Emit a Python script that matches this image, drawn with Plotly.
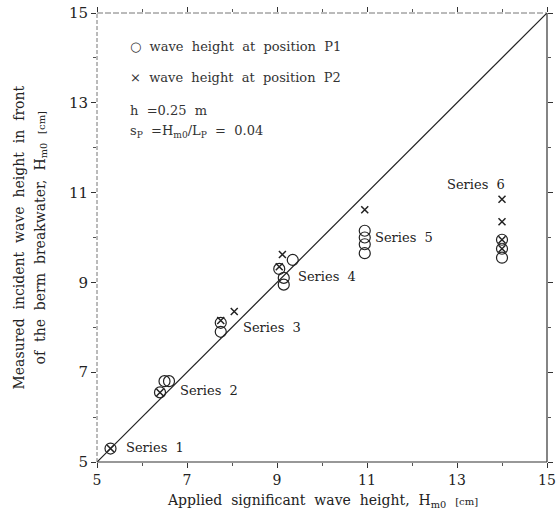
import plotly.graph_objects as go

# Measured wave heights (cm) against applied significant wave height (cm)
p1_applied = [5.3, 6.4, 6.5, 6.6, 7.75, 7.75, 9.05, 9.35, 9.15, 9.15,
              10.95, 10.95, 10.95, 10.95, 14.0, 14.0, 14.0]
p1_measured = [5.3, 6.55, 6.8, 6.8, 8.1, 7.9, 9.3, 9.5, 9.1, 8.95,
               10.15, 10.0, 9.85, 9.65, 9.95, 9.75, 9.55]

p2_applied = [5.3, 6.4, 7.75, 8.05, 9.05, 9.12, 10.95, 14.0, 14.0, 14.0, 14.0]
p2_measured = [5.3, 6.55, 8.15, 8.35, 9.35, 9.62, 10.62, 10.85, 10.35, 9.95, 9.75]

series_names = ["Series 1", "Series 2", "Series 3", "Series 4", "Series 5", "Series 6"]
series_label_x = [5.6, 6.79, 8.19, 9.43, 11.14, 12.73]
series_label_y = [5.33, 6.6, 8.0, 9.13, 9.99, 11.17]

axis_range = [5, 15]
tick_vals = [5, 7, 9, 11, 13, 15]

INK = "#222222"
SERIF = "DejaVu Serif, Liberation Serif, serif"
SP = "\u00a0\u00a0"

fig = go.Figure()

# line of perfect agreement
fig.add_trace(go.Scatter(x=axis_range, y=axis_range, mode="lines",
                         line=dict(color=INK, width=1.2), showlegend=False,
                         hoverinfo="skip"))

fig.add_trace(go.Scatter(x=p1_applied, y=p1_measured, mode="markers",
                         marker=dict(symbol="circle-open", size=11,
                                     line=dict(color=INK, width=1.2), color=INK),
                         showlegend=False))
fig.add_trace(go.Scatter(x=p2_applied, y=p2_measured, mode="markers",
                         marker=dict(symbol="x-thin-open", size=7,
                                     line=dict(color=INK, width=1.5), color=INK),
                         showlegend=False))

annotations = []
for name, lx, ly in zip(series_names, series_label_x, series_label_y):
    annotations.append(dict(x=lx, y=ly, xref="x", yref="y", text=name.replace(" ", SP),
                            showarrow=False, xanchor="left", yanchor="middle",
                            font=dict(family=SERIF, size=13, color=INK)))

# key and test conditions
key_lines = [
    ("\u25cb" + SP + "wave" + SP + "height" + SP + "at" + SP + "position" + SP + "P1", 47),
    ("\u00d7" + SP + "wave" + SP + "height" + SP + "at" + SP + "position" + SP + "P2", 77),
    ("h" + SP + "=0.25" + SP + "m", 110),
    ("s<sub>P</sub>" + SP + "=H<sub>m0</sub>/L<sub>P</sub>" + SP + "=" + SP + "0.04", 131),
]
plot_top, plot_bottom = 13, 462
for txt, py in key_lines:
    annotations.append(dict(x=(128 - 97) / 450, y=(plot_bottom - py) / (plot_bottom - plot_top),
                            xref="paper", yref="paper", text=txt, showarrow=False,
                            xanchor="left", yanchor="middle",
                            font=dict(family=SERIF, size=13, color="#333333")))

# axis titles
annotations.append(dict(
    x=0.5, y=(plot_bottom - 501) / (plot_bottom - plot_top), xref="paper", yref="paper",
    text="Applied" + SP + "significant" + SP + "wave" + SP + "height," + SP
         + "H<sub>m0</sub>" + SP + "<span style='font-size:10px'>[cm]</span>",
    showarrow=False, xanchor="center", yanchor="middle",
    font=dict(family=SERIF, size=14, color=INK)))
annotations.append(dict(
    x=(18 - 97) / 450, y=0.5, xref="paper", yref="paper", textangle=-90,
    text="Measured" + SP + "incident" + SP + "wave" + SP + "height" + SP + "in" + SP + "front",
    showarrow=False, xanchor="center", yanchor="middle",
    font=dict(family=SERIF, size=14, color=INK)))
annotations.append(dict(
    x=(40 - 97) / 450, y=0.5, xref="paper", yref="paper", textangle=-90,
    text="of" + SP + "the" + SP + "berm" + SP + "breakwater," + SP
         + "H<sub>m0</sub>" + SP + "<span style='font-size:10px'>[cm]</span>",
    showarrow=False, xanchor="center", yanchor="middle",
    font=dict(family=SERIF, size=14, color=INK)))

# frame: light dashed left/top, solid right/bottom
shapes = [
    dict(type="line", xref="paper", yref="paper", x0=0, x1=0, y0=0, y1=1,
         line=dict(color="#777777", width=1, dash="4px,2px")),
    dict(type="line", xref="paper", yref="paper", x0=0, x1=1, y0=1, y1=1,
         line=dict(color="#777777", width=1, dash="6px,2px")),
    dict(type="line", xref="paper", yref="paper", x0=1, x1=1, y0=0, y1=1,
         line=dict(color="#333333", width=1.2)),
    dict(type="line", xref="paper", yref="paper", x0=0, x1=1, y0=0, y1=0,
         line=dict(color="#333333", width=1.2)),
]

axis_common = dict(range=axis_range, tickvals=tick_vals, showgrid=False, zeroline=False,
                   showline=False, ticks="outside", ticklen=5, tickcolor="#333333",
                   mirror="allticks", ticklabeloverflow="allow", automargin=False,
                   minor=dict(dtick=1, ticks="outside", ticklen=3, tickcolor="#555555"))

fig.update_layout(
    width=556, height=529,
    margin=dict(l=97, r=9, t=13, b=67),
    paper_bgcolor="white", plot_bgcolor="white",
    xaxis=dict(**axis_common, ticklabelstandoff=0,
               tickfont=dict(family=SERIF, size=14, color=INK)),
    yaxis=dict(**axis_common, tickfont=dict(family=SERIF, size=15, color=INK)),
    annotations=annotations, shapes=shapes,
    showlegend=False,
)

fig.write_html("out.html")
